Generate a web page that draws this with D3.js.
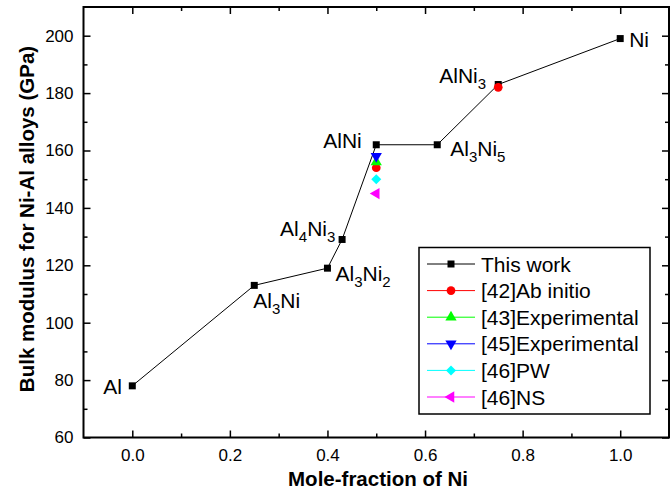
<!DOCTYPE html>
<html><head><meta charset="utf-8">
<script src="https://cdn.jsdelivr.net/npm/d3@7"></script>
<style>
body{margin:0;background:#fff;}
text{font-family:"Liberation Sans",Arial,sans-serif;}
</style></head>
<body><svg id="c" width="671" height="491"></svg>
<script>
// ---- data ----
const thisWorkX = [0.0, 0.25, 0.40, 0.43, 0.50, 0.625, 0.75, 1.0];
const thisWorkY = [78, 113, 119, 129, 162, 162, 183, 199];
const phaseLabels = [
  [["Al",""]],
  [["Al",""],["3","s"],["Ni",""]],
  [["Al",""],["3","s"],["Ni",""],["2","s"]],
  [["Al",""],["4","s"],["Ni",""],["3","s"]],
  [["AlNi",""]],
  [["Al",""],["3","s"],["Ni",""],["5","s"]],
  [["AlNi",""],["3","s"]],
  [["Ni",""]]
];
const abInitioX = [0.5, 0.75];
const abInitioY = [154, 182];
const exp43X = [0.5];
const exp43Y = [156];
const exp45X = [0.5];
const exp45Y = [158];
const pwX = [0.5];
const pwY = [150];
const nsX = [0.5];
const nsY = [145];
const legendNames = ["This work","[42]Ab initio","[43]Experimental","[45]Experimental","[46]PW","[46]NS"];
const xTicks = [0.0, 0.2, 0.4, 0.6, 0.8, 1.0];
const yTicks = [60, 80, 100, 120, 140, 160, 180, 200];

// ---- layout ----
const L = 83.5, R = 669, T = 7, B = 437.5;
const svg = d3.select("#c");
const x = d3.scaleLinear().domain([-0.1, 1.1]).range([L, R]);
const y = d3.scaleLinear().domain([60, 210]).range([B, T]);

// axes
const xMinor = d3.range(-0.1, 1.1001, 0.1).map(v => +v.toFixed(2)).filter(v => !xTicks.some(t => Math.abs(t - v) < 1e-6) && v > -0.1 && v < 1.1);
const yMinor = d3.range(70, 210, 20);

function axisStyle(g){ g.select(".domain").remove(); g.selectAll("line").attr("stroke","#000").attr("stroke-width",1.5); }

svg.append("g").attr("transform",`translate(0,${B})`)
  .call(d3.axisBottom(x).tickValues(xTicks).tickFormat(d3.format(".1f")).tickSizeInner(-7).tickSizeOuter(0).tickPadding(11))
  .call(axisStyle)
  .call(g=>g.selectAll("text").attr("font-size",17).attr("fill","#000"));
svg.append("g").attr("transform",`translate(0,${B})`)
  .call(d3.axisBottom(x).tickValues(xMinor).tickFormat("").tickSizeInner(-4).tickSizeOuter(0)).call(axisStyle);
svg.append("g").attr("transform",`translate(0,${T})`)
  .call(d3.axisTop(x).tickValues(xTicks).tickFormat("").tickSizeInner(-7).tickSizeOuter(0)).call(axisStyle);
svg.append("g").attr("transform",`translate(0,${T})`)
  .call(d3.axisTop(x).tickValues(xMinor).tickFormat("").tickSizeInner(-4).tickSizeOuter(0)).call(axisStyle);

svg.append("g").attr("transform",`translate(${L},0)`)
  .call(d3.axisLeft(y).tickValues(yTicks).tickSizeInner(-7).tickSizeOuter(0).tickPadding(10))
  .call(axisStyle)
  .call(g=>g.selectAll("text").attr("font-size",17).attr("fill","#000"));
svg.append("g").attr("transform",`translate(${L},0)`)
  .call(d3.axisLeft(y).tickValues(yMinor).tickFormat("").tickSizeInner(-4).tickSizeOuter(0)).call(axisStyle);
svg.append("g").attr("transform",`translate(${R},0)`)
  .call(d3.axisRight(y).tickValues(yTicks).tickFormat("").tickSizeInner(-7).tickSizeOuter(0)).call(axisStyle);
svg.append("g").attr("transform",`translate(${R},0)`)
  .call(d3.axisRight(y).tickValues(yMinor).tickFormat("").tickSizeInner(-4).tickSizeOuter(0)).call(axisStyle);

svg.append("rect").attr("x",L).attr("y",T).attr("width",R-L).attr("height",B-T)
  .attr("fill","none").attr("stroke","#000").attr("stroke-width",2);

// titles
svg.append("text").attr("x",378).attr("y",486).attr("text-anchor","middle")
  .attr("font-size",20.5).attr("font-weight","bold").text("Mole-fraction of Ni");
svg.append("text").attr("transform",`translate(34,219) rotate(-90)`).attr("text-anchor","middle")
  .attr("font-size",20.5).attr("font-weight","bold").text("Bulk modulus for Ni-Al alloys (GPa)");

// series
const sym = {
  square: d3.symbol().type(d3.symbolSquare).size(49),
  circle: d3.symbol().type(d3.symbolCircle).size(60),
  up: d3.symbol().type(d3.symbolTriangle).size(55),
  diamond: d3.symbol().type(d3.symbolSquare).size(50)
};
const series = [
  {xs:thisWorkX, ys:thisWorkY, color:"#000", shape:"square", rot:0},
  {xs:abInitioX, ys:abInitioY, color:"#ff0000", shape:"circle", rot:0},
  {xs:exp43X, ys:exp43Y, color:"#00ff00", shape:"up", rot:0},
  {xs:exp45X, ys:exp45Y, color:"#0000ff", shape:"up", rot:180},
  {xs:pwX, ys:pwY, color:"#00ffff", shape:"diamond", rot:45},
  {xs:nsX, ys:nsY, color:"#ff00ff", shape:"up", rot:-90}
];

const line = d3.line().x(d=>x(d[0])).y(d=>y(d[1]));
svg.append("path").datum(d3.zip(thisWorkX, thisWorkY)).attr("d", line)
  .attr("fill","none").attr("stroke","#000").attr("stroke-width",1);

series.forEach(s=>{
  svg.append("g").selectAll("path").data(d3.zip(s.xs, s.ys)).join("path")
    .attr("d", sym[s.shape]())
    .attr("transform", d=>`translate(${x(d[0])},${y(d[1])}) rotate(${s.rot})`)
    .attr("fill", s.color);
});

// point labels
const labelPos = [
  {dx:-29, dy:8},
  {dx:-1, dy:23},
  {dx:8, dy:13},
  {dx:-62, dy:-3},
  {dx:-53, dy:3},
  {dx:13, dy:11},
  {dx:-59, dy:-1},
  {dx:9, dy:8}
];
phaseLabels.forEach((parts,i)=>{
  const t = svg.append("text").attr("x", x(thisWorkX[i]) + labelPos[i].dx)
    .attr("y", y(thisWorkY[i]) + labelPos[i].dy).attr("font-size",21);
  let shifted = false;
  parts.forEach(p=>{
    const ts = t.append("tspan").text(p[0]);
    if(p[1]==="s"){ ts.attr("font-size",15).attr("dy",6); shifted = true; }
    else if(shifted){ ts.attr("dy",-6); shifted = false; }
  });
});

// legend
const lg = svg.append("g");
lg.append("rect").attr("x",419).attr("y",247.5).attr("width",231).attr("height",166.5)
  .attr("fill","#fff").attr("stroke","#000").attr("stroke-width",1.5);
series.forEach((s,i)=>{
  const yy = 264 + i*26.6;
  lg.append("line").attr("x1",427).attr("x2",475).attr("y1",yy).attr("y2",yy)
    .attr("stroke", s.color).attr("stroke-width",1);
  lg.append("path").attr("d", sym[s.shape]()).attr("transform",`translate(451,${yy}) rotate(${s.rot})`).attr("fill", s.color);
  lg.append("text").attr("x",481).attr("y",yy+7.5).attr("font-size",21).text(legendNames[i]);
});
</script></body></html>
